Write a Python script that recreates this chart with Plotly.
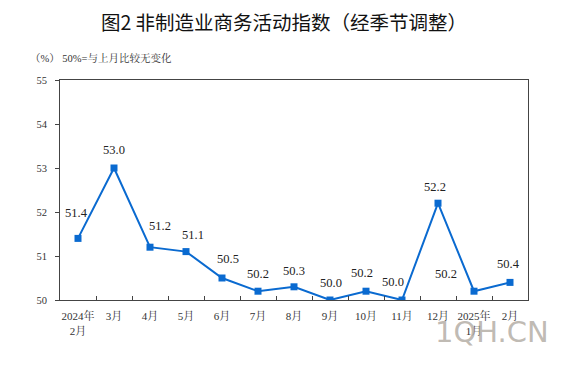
import plotly.graph_objects as go

# ---- data ----
months = ["2024年<br>2月", "3月", "4月", "5月", "6月", "7月", "8月", "9月",
          "10月", "11月", "12月", "2025年<br>1月", "2月"]
values = [51.4, 53.0, 51.2, 51.1, 50.5, 50.2, 50.3, 50.0, 50.2, 50.0, 52.2, 50.2, 50.4]
y_ticks = [50, 51, 52, 53, 54, 55]

# label pixel offsets (style)
label_dx = [-2, 0, 10, 7, 6, 0, 0, 1, -4, -9, -3, -28, -2]
label_dy = [25, 18, 21, 17, 19, 17, 16, 17, 18, 18, 16, 17, 18]

BLUE = "#0A6AD0"
SERIF = "Times New Roman, Liberation Serif, Noto Serif CJK SC, Noto Sans CJK SC, serif"
CJK = "Noto Sans CJK SC, sans-serif"

# page body has an 8px margin -> figure is 553x360, offset by 8px
W, H = 553, 360
ML, MR, MT, MB = 52, 33, 72, 68
PW, PH = W - ML - MR, H - MT - MB  # 468 x 220

fig = go.Figure()
fig.add_trace(go.Scatter(
    x=months, y=values, mode="lines+markers",
    line=dict(color=BLUE, width=2),
    marker=dict(symbol="square", size=7, color=BLUE),
    hoverinfo="skip", showlegend=False,
))

for m, v, dx, dy in zip(months, values, label_dx, label_dy):
    fig.add_annotation(x=m, y=v, text=f"{v:.1f}", showarrow=False,
                       xshift=dx, yshift=dy,
                       font=dict(family=SERIF, size=12.5, color="#222"))

fig.update_layout(
    title=dict(text="图2 非制造业商务活动指数（经季节调整）",
               x=(284 - 8) / W, xanchor="center", xref="container",
               y=1 - (23 - 8) / H, yanchor="middle", yref="container",
               font=dict(family=CJK, size=19.5, color="#111")),
)

fig.add_annotation(xref="paper", yref="paper", x=(28 - 60) / PW, y=(300 - 58) / PH,
                   xanchor="left", yanchor="middle", showarrow=False,
                   text="（%） 50%=与上月比较无变化",
                   font=dict(family=SERIF, size=10.5, color="#333"))

# watermark
fig.add_annotation(xref="paper", yref="paper", x=(551 - 60) / PW, y=(300 - 332) / PH,
                   xanchor="right", yanchor="middle", showarrow=False,
                   text="1QH.CN",
                   font=dict(family="DejaVu Sans, sans-serif", size=29,
                             color="rgba(175,168,160,0.8)"))

fig.update_xaxes(
    type="category", showgrid=False, zeroline=False, automargin=False,
    showline=True, linecolor="#444", linewidth=1, mirror=True,
    ticks="inside", tickson="boundaries", ticklen=4, tickcolor="#444",
    tickangle=0, ticklabelstandoff=6,
    tickfont=dict(family=SERIF, size=11, color="#333"),
    range=[-0.5, len(months) - 0.5],
)
fig.update_yaxes(
    range=[50, 55], tickvals=y_ticks, showgrid=False, zeroline=False, automargin=False,
    showline=True, linecolor="#444", linewidth=1, mirror=True,
    ticks="outside", ticklen=4, tickcolor="#444", ticklabelstandoff=6,
    tickfont=dict(family=SERIF, size=10.5, color="#333"),
)

fig.update_layout(
    width=W, height=H,
    margin=dict(l=ML, r=MR, t=MT, b=MB),
    plot_bgcolor="white", paper_bgcolor="white",
)

fig.write_html("out.html")
